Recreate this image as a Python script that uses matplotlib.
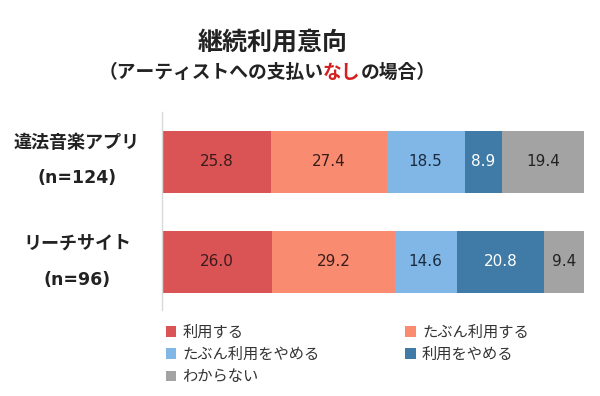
import matplotlib
matplotlib.use("Agg")
import matplotlib.pyplot as plt
from matplotlib.patches import Patch

plt.rcParams['font.family'] = ['Noto Sans CJK JP', 'DejaVu Sans']

categories = ["違法音楽アプリ\n(n=124)", "リーチサイト\n(n=96)"]
series_names = ["利用する", "たぶん利用する", "たぶん利用をやめる", "利用をやめる", "わからない"]
values = [
    [25.8, 26.0],
    [27.4, 29.2],
    [18.5, 14.6],
    [8.9, 20.8],
    [19.4, 9.4],
]
colors = ["#DA5455", "#F88B70", "#80B7E6", "#3F7BA6", "#A3A3A3"]
text_colors = ["#3a1c1c", "#3a1c1c", "#1c2a40", "#ffffff", "#222222"]

fig = plt.figure(figsize=(6, 3.96), dpi=100)
ax = fig.add_axes([162/600, 1-310/396, 422/600, 198/396])

ypos = list(range(len(categories)))
left = [0.0]*len(categories)
for i, (name, vals) in enumerate(zip(series_names, values)):
    bars = ax.barh(ypos, vals, left=left, height=0.62, color=colors[i], label=name)
    for j, v in enumerate(vals):
        ax.text(left[j] + v/2, ypos[j], f"{v:.1f}", ha='center', va='center',
                fontsize=11, color=text_colors[i], family=['DejaVu Sans'])
    left = [l + v for l, v in zip(left, vals)]

ax.set_xlim(0, 100)
ax.set_ylim(1.48, -0.5)
ax.set_xticks([])
ax.set_yticks([])
for s in ['top', 'right', 'bottom']:
    ax.spines[s].set_visible(False)
ax.spines['left'].set_color('#D9D9D9')
ax.spines['left'].set_linewidth(1.0)

# category labels
label_y = [(142, 178), (243, 280)]
for cat, (y1, y2) in zip(categories, label_y):
    l1, l2 = cat.split("\n")
    fig.text(77/600, 1-y1/396, l1, ha='center', va='center', fontsize=13, fontweight='bold', color='#222222')
    fig.text(77/600, 1-y2/396, l2, ha='center', va='center', fontsize=12.5, fontweight='bold', color='#222222',
             family=['DejaVu Sans'])

# title
fig.text(273/600, 1-43/396, "継続利用意向", ha='center', va='center', fontsize=18, fontweight='bold', color='#222222')

# subtitle with red part
parts = [("（アーティストへの支払い", '#222222'), ("なし", '#D42020'), ("の場合）", '#222222')]
renderer = fig.canvas.get_renderer()
widths = []
for s, c in parts:
    t = fig.text(0, 0, s, fontsize=13.5, fontweight='bold')
    bb = t.get_window_extent(renderer=renderer)
    widths.append(bb.width)
    t.remove()
total = sum(widths)
x = 267 - total/2
for (s, c), w in zip(parts, widths):
    fig.text(x/600, 1-72/396, s, ha='left', va='center', fontsize=13.5, fontweight='bold', color=c)
    x += w

# legend
handles = [Patch(facecolor=c, edgecolor='none') for c in colors]
order = [0, 2, 4, 1, 3]
leg = fig.legend([handles[k] for k in order], [series_names[k] for k in order],
                 ncol=2, loc='upper left', bbox_to_anchor=(158/600, 1-316/396),
                 frameon=False, fontsize=11, handlelength=0.7, handleheight=0.7,
                 handletextpad=0.4, columnspacing=5.6, labelspacing=0.35, borderpad=0)
for t in leg.get_texts():
    t.set_color('#333333')

fig.savefig("out.png", dpi=100, facecolor='white')
